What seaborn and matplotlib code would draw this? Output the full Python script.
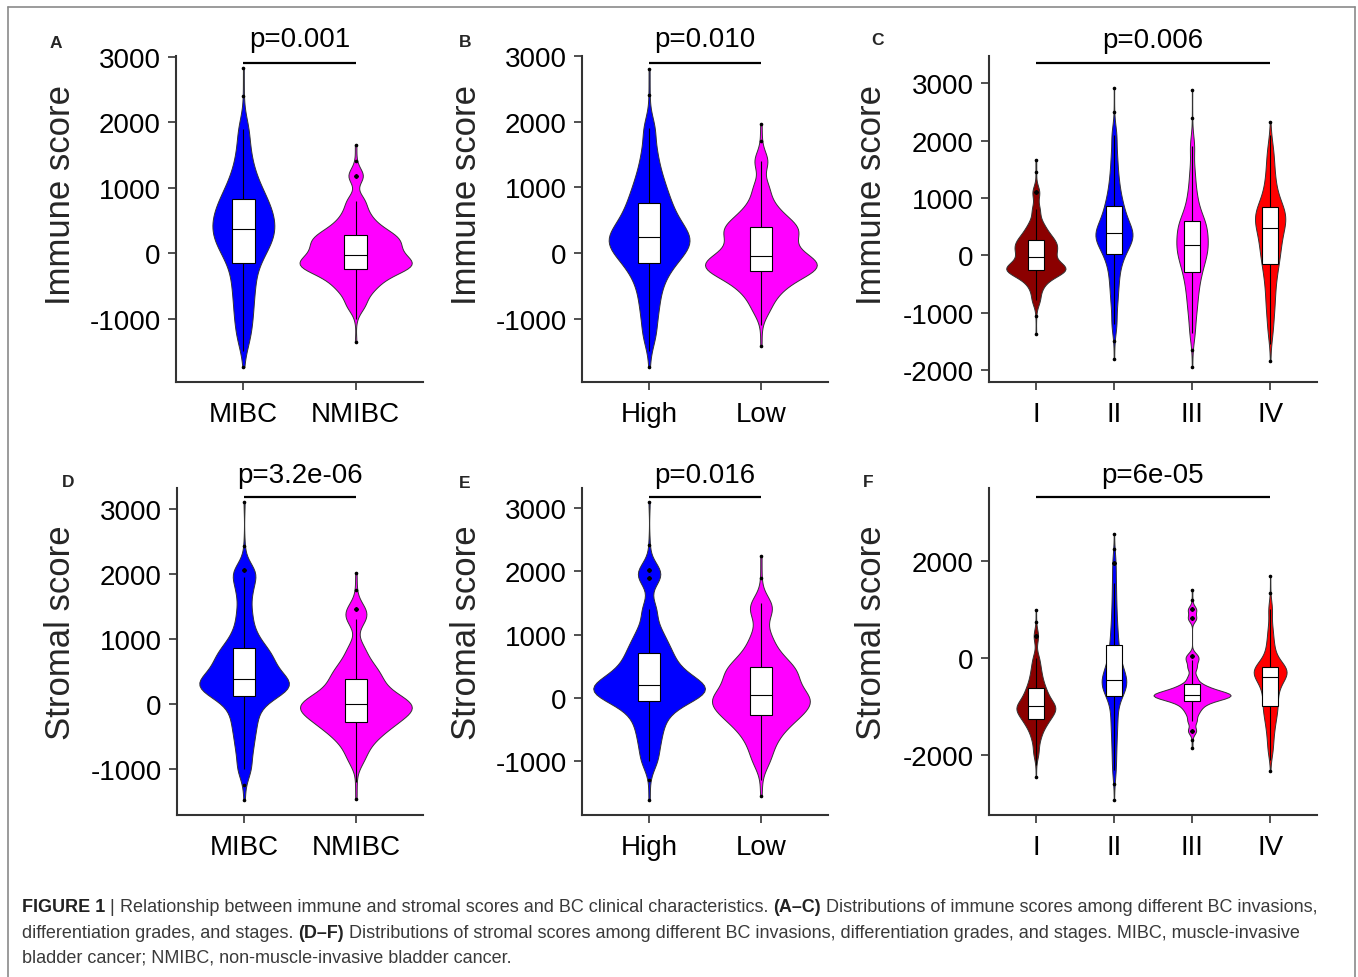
import numpy as np
import pandas as pd
import matplotlib
matplotlib.use("Agg")
import matplotlib.pyplot as plt
from matplotlib.lines import Line2D
from matplotlib.transforms import blended_transform_factory
import seaborn as sns

invasion_cats = ["MIBC", "NMIBC"]
grade_cats = ["High", "Low"]
stage_cats = ["I", "II", "III", "IV"]

# how many samples each listed value stands for (thin tails, dense body)
quantile_weights = [1, 1, 10, 10, 10, 10, 10, 10, 10, 10, 10, 10, 10, 10, 10, 10,
                    10, 10, 10, 10, 10, 10, 10, 10, 10, 10, 10, 10, 10, 1, 1]

immune_mibc = [-1745, -1500, -1300, -1050, -850, -650, -480, -320, -150, -50, 40, 120, 190, 250, 310, 370,
               430, 490, 550, 620, 690, 760, 830, 920, 1030, 1160, 1330, 1580, 1900, 2400, 2820]
immune_nmibc = [-1362, -1000, -800, -620, -510, -430, -360, -300, -250, -222, -195, -168, -140, -110, -70, -26,
                20, 65, 110, 155, 200, 240, 270, 330, 400, 490, 620, 800, 1180, 1400, 1650]
immune_high = [-1740, -1500, -1250, -950, -720, -520, -360, -240, -147, -70, 0, 60, 110, 160, 200, 244,
               295, 350, 420, 490, 570, 660, 756, 860, 980, 1120, 1300, 1550, 1900, 2400, 2800]
immune_low = [-1410, -1100, -850, -650, -540, -450, -380, -320, -274, -245, -215, -185, -155, -120, -80, -41,
              20, 90, 170, 240, 300, 350, 396, 450, 520, 620, 760, 1000, 1400, 1700, 1964]
immune_stage1 = [-1370, -1050, -780, -580, -460, -380, -320, -285, -262, -248, -232, -215, -195, -165, -110, -23,
                 15, 55, 100, 145, 190, 230, 262, 320, 390, 470, 580, 800, 1100, 1450, 1669]
immune_stage2 = [-1808, -1500, -1200, -850, -600, -400, -220, -80, 17, 100, 170, 230, 280, 320, 352, 384,
                 430, 480, 540, 610, 690, 770, 860, 970, 1100, 1270, 1480, 1750, 2100, 2500, 2913]
immune_stage3 = [-1953, -1650, -1350, -1050, -850, -680, -530, -400, -297, -200, -120, -50, 20, 80, 130, 180,
                 240, 300, 370, 440, 500, 550, 593, 680, 800, 960, 1150, 1450, 1900, 2400, 2890]
immune_stage4 = [-1837, -1550, -1300, -1000, -800, -600, -420, -280, -151, -50, 40, 130, 220, 300, 390, 471,
                 530, 590, 640, 690, 740, 790, 837, 930, 1060, 1200, 1380, 1600, 1850, 2100, 2320]

stromal_mibc = [-1477, -1250, -1000, -720, -500, -320, -160, -20, 113, 160, 200, 240, 280, 310, 345, 379,
                440, 510, 580, 650, 720, 790, 856, 980, 1150, 1400, 1700, 1950, 2050, 2420, 3100]
stromal_nmibc = [-1467, -1200, -850, -650, -530, -440, -370, -320, -277, -215, -170, -135, -100, -70, -38, -5,
                 25, 60, 100, 150, 220, 300, 379, 450, 540, 650, 850, 1300, 1450, 1750, 2010]
stromal_high = [-1620, -1300, -1000, -750, -550, -380, -240, -130, -48, 0, 40, 80, 110, 140, 175, 206,
                250, 300, 360, 430, 510, 600, 703, 800, 930, 1100, 1400, 1900, 2020, 2420, 3106]
stromal_low = [-1555, -1300, -1000, -780, -620, -500, -410, -340, -275, -220, -170, -120, -70, -30, 5, 42,
               100, 170, 240, 310, 380, 430, 481, 560, 660, 800, 1000, 1350, 1500, 1900, 2250]
stromal_stage1 = [-2460, -2200, -1950, -1700, -1550, -1440, -1360, -1300, -1258, -1200, -1150, -1110, -1075, -1045, -1020, -997,
                  -960, -920, -870, -810, -750, -690, -625, -540, -440, -320, -180, 0, 450, 750, 997]
stromal_stage2 = [-2928, -2600, -2300, -1950, -1650, -1400, -1200, -980, -777, -700, -640, -590, -540, -500, -470, -447,
                  -380, -300, -220, -120, -20, 120, 268, 450, 650, 900, 1200, 1550, 1950, 2250, 2557]
stromal_stage3 = [-1862, -1700, -1500, -1300, -1150, -1050, -980, -920, -880, -850, -825, -805, -790, -775, -765, -756,
                  -740, -720, -700, -670, -630, -590, -536, -400, -200, -50, 50, 820, 1000, 1200, 1409]
stromal_stage4 = [-2323, -2100, -1900, -1650, -1450, -1300, -1170, -1070, -983, -880, -780, -680, -590, -510, -450, -392,
                  -350, -310, -280, -250, -225, -200, -179, -100, 20, 170, 350, 600, 1000, 1350, 1698]

p_values = ["p=0.001", "p=0.010", "p=0.006", "p=3.2e-06", "p=0.016", "p=6e-05"]
panel_letters = ["A", "B", "C", "D", "E", "F"]
y_titles = ["Immune score", "Immune score", "Immune score", "Stromal score", "Stromal score", "Stromal score"]

two_colors = ["#0000FF", "#FF00FF"]
stage_colors = ["#8B0000", "#0000FF", "#FF00FF", "#FF0000"]

# ---------------- styling ----------------
sns.set_theme(style="ticks")
plt.rcParams["font.family"] = ["Liberation Sans", "DejaVu Sans"]
plt.rcParams["axes.unicode_minus"] = False

W, H = 1358, 978
fig = plt.figure(figsize=(W / 100, H / 100), dpi=100)
fig.patch.set_facecolor("white")


def px_rect(left, top, right, bottom):
    return [left / W, 1 - bottom / H, (right - left) / W, (bottom - top) / H]


def nrd0_factor(kde):
    # R's bw.nrd0 bandwidth (what ggplot2 violins use), expressed as a factor of the data sd
    d = kde.dataset[0]
    sd = np.std(d, ddof=1)
    q75, q25 = np.percentile(d, [75, 25])
    lo = min(sd, (q75 - q25) / 1.34)
    bw = 0.9 * lo * kde.n ** -0.2
    return bw / sd


panels = [
    dict(cats=invasion_cats, groups=[immune_mibc, immune_nmibc], colors=two_colors,
         rect=px_rect(176, 57, 423, 383), ylim=(-1970, 3010), yticks=[-1000, 0, 1000, 2000, 3000],
         width=1.0, bar_y=2905, text_y=47, letter_xy=(50, 48), ylab_xy=(60, 195)),
    dict(cats=grade_cats, groups=[immune_high, immune_low], colors=two_colors,
         rect=px_rect(582, 57, 828, 383), ylim=(-1965, 3000), yticks=[-1000, 0, 1000, 2000, 3000],
         width=1.0, bar_y=2890, text_y=47, letter_xy=(459, 47), ylab_xy=(467, 195)),
    dict(cats=stage_cats, groups=[immune_stage1, immune_stage2, immune_stage3, immune_stage4], colors=stage_colors,
         rect=px_rect(989, 57, 1317, 383), ylim=(-2210, 3477), yticks=[-2000, -1000, 0, 1000, 2000, 3000],
         width=0.76, bar_y=3354, text_y=48, letter_xy=(871, 45), ylab_xy=(871, 195)),
    dict(cats=invasion_cats, groups=[stromal_mibc, stromal_nmibc], colors=two_colors,
         rect=px_rect(177, 489, 423, 816), ylim=(-1713, 3318), yticks=[-1000, 0, 1000, 2000, 3000],
         width=1.0, bar_y=3180, text_y=483, letter_xy=(62, 487), ylab_xy=(60, 633)),
    dict(cats=grade_cats, groups=[stromal_high, stromal_low], colors=two_colors,
         rect=px_rect(582, 489, 828, 816), ylim=(-1859, 3323), yticks=[-1000, 0, 1000, 2000, 3000],
         width=1.0, bar_y=3180, text_y=483, letter_xy=(459, 488), ylab_xy=(467, 633)),
    dict(cats=stage_cats, groups=[stromal_stage1, stromal_stage2, stromal_stage3, stromal_stage4], colors=stage_colors,
         rect=px_rect(989, 489, 1317, 816), ylim=(-3237, 3505), yticks=[-2000, 0, 2000],
         width=0.99, bar_y=3320, text_y=483, letter_xy=(863, 487), ylab_xy=(871, 633)),
]

axis_col = "#333333"
for i, p in enumerate(panels):
    ax = fig.add_axes(p["rect"])
    cats = p["cats"]
    vals, labs = [], []
    for c, g in zip(cats, p["groups"]):
        v = np.repeat(np.asarray(g, float), quantile_weights)
        vals.append(v)
        labs.append(np.repeat(c, len(v)))
    df = pd.DataFrame({"group": np.concatenate(labs), "score": np.concatenate(vals)})
    sns.violinplot(data=df, x="group", y="score", hue="group", order=cats, hue_order=cats,
                   palette=dict(zip(cats, p["colors"])), saturation=1, cut=0, inner=None,
                   density_norm="area", common_norm=True, width=p["width"],
                   bw_method=nrd0_factor, bw_adjust=1.0,
                   linewidth=0.7, linecolor="#333333", legend=False, ax=ax)
    sns.boxplot(data=df, x="group", y="score", order=cats, color="white", saturation=1,
                linecolor="black", linewidth=0.8, width=0.2, showcaps=False, fliersize=1.6,
                flierprops=dict(marker="o", markerfacecolor="black", markeredgecolor="black"), ax=ax)
    n = len(cats)
    ax.set_xlim(-0.6, n - 0.4)
    ax.set_ylim(*p["ylim"])
    ax.set_yticks(p["yticks"])
    ax.set_yticklabels([str(t) for t in p["yticks"]])
    ax.set_xlabel("")
    ax.set_ylabel("")
    ax.tick_params(axis="both", labelsize=20, length=6, width=1.2, color=axis_col, labelcolor="black")
    ax.tick_params(axis="x", pad=8)
    ax.tick_params(axis="y", pad=5)
    sns.despine(ax=ax)
    for s in ("left", "bottom"):
        ax.spines[s].set_linewidth(1.5)
        ax.spines[s].set_color(axis_col)
    ax.set_facecolor("white")
    # significance bar and p-value
    ax.plot([0, n - 1], [p["bar_y"], p["bar_y"]], color="black", lw=1.6, clip_on=False,
            solid_capstyle="butt")
    tr = blended_transform_factory(ax.transData, fig.transFigure)
    ax.text((n - 1) / 2, 1 - p["text_y"] / H, p_values[i], transform=tr, ha="center",
            va="baseline", fontsize=20, color="black")
    fig.text(p["letter_xy"][0] / W, 1 - p["letter_xy"][1] / H, panel_letters[i],
             fontsize=12.5, fontweight="bold", ha="left", va="baseline")
    fig.text(p["ylab_xy"][0] / W, 1 - p["ylab_xy"][1] / H, y_titles[i], rotation=90,
             fontsize=25, ha="center", va="center")

# ---------------- frame ----------------
frame_col = "#8a8a8a"
for xs, ys in [((8, 1355), (8, 8)), ((8, 8), (8, 980)), ((1355, 1355), (8, 980))]:
    fig.add_artist(Line2D([x / W for x in xs], [1 - y / H for y in ys], color=frame_col, lw=1.2))

# ---------------- caption ----------------
caption_lines = [
    [("FIGURE 1", "bold"), (" | ", "normal"),
     ("Relationship between immune and stromal scores and BC clinical characteristics. ", "normal"),
     ("(A\u2013C)", "bold"), (" Distributions of immune scores among different BC invasions,", "normal")],
    [("differentiation grades, and stages. ", "normal"), ("(D\u2013F)", "bold"),
     (" Distributions of stromal scores among different BC invasions, differentiation grades, and stages. MIBC, muscle-invasive", "normal")],
    [("bladder cancer; NMIBC, non-muscle-invasive bladder cancer.", "normal")],
]
caption_baselines = [912, 938, 963]
renderer = fig.canvas.get_renderer()
for line, yb in zip(caption_lines, caption_baselines):
    x = 22
    for txt, wt in line:
        t = fig.text(x / W, 1 - yb / H, txt, fontsize=12.95, fontweight=wt,
                     color="#222222" if wt == "bold" else "#3a3a3a", ha="left", va="baseline")
        bb = t.get_window_extent(renderer=renderer)
        x += bb.width

fig.savefig("out.png", dpi=100)
